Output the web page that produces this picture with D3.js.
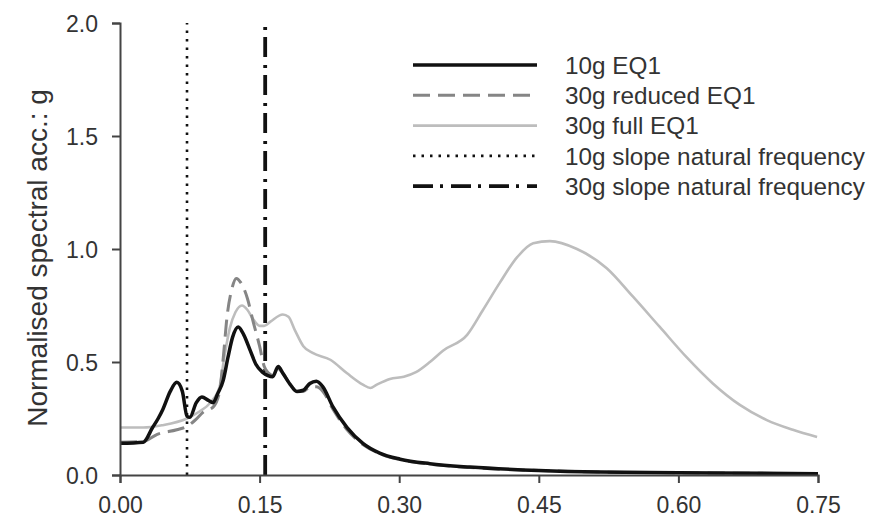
<!DOCTYPE html>
<html>
<head>
<meta charset="utf-8">
<script src="https://cdn.jsdelivr.net/npm/d3@7"></script>
<style>
  html, body { margin: 0; padding: 0; background: #fff; }
  svg { display: block; }
  text { font-family: "Liberation Sans", Arial, sans-serif; fill: #333; }
</style>
</head>
<body>
<svg id="chart" width="873" height="527"></svg>
<script>
// ---------------- DATA ----------------
const xTicks = [0.00, 0.15, 0.30, 0.45, 0.60, 0.75];
const yTicks = [0.0, 0.5, 1.0, 1.5, 2.0];

// 10g EQ1 (black solid)
const freq10g = [0.000, 0.025, 0.035, 0.041, 0.046, 0.054, 0.061, 0.067, 0.072, 0.075, 0.082, 0.088, 0.095, 0.100, 0.105, 0.111, 0.116, 0.121, 0.127, 0.133, 0.140, 0.146, 0.153, 0.159, 0.164, 0.170, 0.175, 0.183, 0.190, 0.197, 0.204, 0.211, 0.218, 0.229, 0.244, 0.261, 0.279, 0.301, 0.333, 0.376, 0.450, 0.516, 0.600, 0.750];
const acc10g  = [0.140, 0.145, 0.210, 0.250, 0.290, 0.370, 0.410, 0.370, 0.260, 0.255, 0.320, 0.345, 0.330, 0.320, 0.360, 0.420, 0.520, 0.610, 0.655, 0.620, 0.550, 0.490, 0.455, 0.440, 0.435, 0.480, 0.450, 0.400, 0.370, 0.375, 0.405, 0.415, 0.390, 0.300, 0.210, 0.140, 0.097, 0.070, 0.050, 0.035, 0.020, 0.013, 0.010, 0.006];

// 30g reduced EQ1 (grey dashed)
const freq30r = [0.000, 0.025, 0.040, 0.061, 0.072, 0.080, 0.090, 0.100, 0.107, 0.111, 0.115, 0.120, 0.125, 0.130, 0.137, 0.143, 0.150, 0.155, 0.160, 0.164, 0.170, 0.175, 0.183, 0.190, 0.197, 0.204, 0.211, 0.218, 0.229, 0.244, 0.261, 0.279, 0.301, 0.333, 0.376, 0.450, 0.516, 0.600, 0.750];
const acc30r  = [0.145, 0.148, 0.180, 0.200, 0.215, 0.240, 0.280, 0.300, 0.370, 0.520, 0.700, 0.820, 0.870, 0.850, 0.780, 0.680, 0.570, 0.480, 0.450, 0.440, 0.470, 0.450, 0.400, 0.370, 0.370, 0.390, 0.390, 0.370, 0.290, 0.200, 0.135, 0.095, 0.068, 0.048, 0.033, 0.020, 0.013, 0.010, 0.006];

// 30g full EQ1 (light grey solid)
const freq30f = [0.000, 0.025, 0.045, 0.072, 0.085, 0.097, 0.107, 0.112, 0.118, 0.124, 0.131, 0.137, 0.143, 0.150, 0.155, 0.162, 0.175, 0.181, 0.188, 0.197, 0.207, 0.226, 0.244, 0.261, 0.269, 0.276, 0.290, 0.305, 0.318, 0.333, 0.347, 0.373, 0.390, 0.408, 0.427, 0.444, 0.462, 0.491, 0.523, 0.551, 0.580, 0.609, 0.637, 0.666, 0.695, 0.723, 0.749];
const acc30f  = [0.210, 0.210, 0.220, 0.250, 0.280, 0.320, 0.390, 0.520, 0.650, 0.720, 0.750, 0.730, 0.690, 0.660, 0.660, 0.680, 0.710, 0.700, 0.640, 0.570, 0.540, 0.510, 0.450, 0.400, 0.385, 0.400, 0.425, 0.435, 0.455, 0.500, 0.550, 0.620, 0.730, 0.850, 0.965, 1.025, 1.035, 1.000, 0.915, 0.790, 0.655, 0.520, 0.405, 0.310, 0.243, 0.200, 0.168];

// natural frequencies (vertical lines)
const natFreq10g = 0.072;
const natFreq30g = 0.156;

const legendLabels = ["10g EQ1", "30g reduced EQ1", "30g full EQ1", "10g slope natural frequency", "30g slope natural frequency"];
const yTitle = "Normalised spectral acc.: g";

// ---------------- LAYOUT ----------------
const svg = d3.select("#chart");
const mLeft = 120, mRight = 818, mTop = 23, mBottom = 475;

const x = d3.scaleLinear().domain([0, 0.75]).range([mLeft, mRight]);
const y = d3.scaleLinear().domain([0, 2]).range([mBottom, mTop]);

const styles = [
  { stroke: "#111", width: 3.5, dash: null },
  { stroke: "#858585", width: 3, dash: "17,8" },
  { stroke: "#bdbdbd", width: 2.6, dash: null },
  { stroke: "#111", width: 2.6, dash: "2.5,6" },
  { stroke: "#111", width: 3.8, dash: "20,7,3,8" }
];

// vertical lines
[natFreq10g, natFreq30g].forEach((f, i) => {
  const s = styles[3 + i];
  svg.append("line")
    .attr("x1", x(f)).attr("x2", x(f))
    .attr("y1", y(0)).attr("y2", y(2))
    .attr("stroke", s.stroke).attr("stroke-width", s.width)
    .attr("stroke-dasharray", s.dash);
});

const line = d3.line().x(d => x(d[0])).y(d => y(d[1])).curve(d3.curveMonotoneX);

const series = [
  [freq30f, acc30f, styles[2]],
  [freq30r, acc30r, styles[1]],
  [freq10g, acc10g, styles[0]]
];
series.forEach(([fx, fy, s]) => {
  svg.append("path")
    .datum(fx.map((v, i) => [v, fy[i]]))
    .attr("d", line)
    .attr("fill", "none")
    .attr("stroke", s.stroke)
    .attr("stroke-width", s.width)
    .attr("stroke-dasharray", s.dash)
    .attr("stroke-linejoin", "round");
});

// axes
const xAxis = d3.axisBottom(x).tickValues(xTicks).tickFormat(d3.format(".2f")).tickSize(8).tickPadding(14);
const yAxis = d3.axisLeft(y).tickValues(yTicks).tickFormat(d3.format(".1f")).tickSize(8).tickPadding(14);

const gx = svg.append("g").attr("transform", `translate(0,${mBottom})`).call(xAxis);
const gy = svg.append("g").attr("transform", `translate(${mLeft},0)`).call(yAxis);
[gx, gy].forEach(g => {
  g.select(".domain").attr("stroke", "#444").attr("stroke-width", 2);
  g.selectAll(".tick line").attr("stroke", "#444").attr("stroke-width", 2);
  g.selectAll(".tick text").style("font-size", "23px").attr("fill", "#333")
    .style("font-family", "'Liberation Sans', Arial, sans-serif");
});
gy.selectAll(".tick text").attr("dy", "0.36em");

// y title
svg.append("text")
  .attr("transform", `translate(47,258) rotate(-90)`)
  .attr("text-anchor", "middle")
  .style("font-size", "28px")
  .text(yTitle);

// legend
const legX1 = 413, legX2 = 537, legTextX = 565, legY0 = 65, legDy = 30.3;
legendLabels.forEach((lab, i) => {
  const s = styles[i];
  const yy = legY0 + i * legDy;
  svg.append("line")
    .attr("x1", legX1).attr("x2", legX2).attr("y1", yy).attr("y2", yy)
    .attr("stroke", s.stroke).attr("stroke-width", s.width)
    .attr("stroke-dasharray", s.dash);
  svg.append("text")
    .attr("x", legTextX).attr("y", yy).attr("dy", "0.36em")
    .style("font-size", "24.3px")
    .text(lab);
});
</script>
</body>
</html>
